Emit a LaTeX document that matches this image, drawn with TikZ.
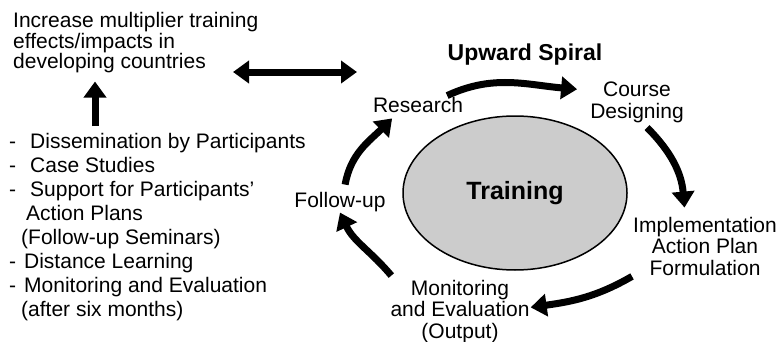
\documentclass[tikz,border=0pt]{standalone}
\usepackage{fontspec}
\setmainfont{Liberation Sans}
\usetikzlibrary{arrows.meta,shapes.geometric}

\tikzset{
  txt/.style={font=\fontsize{21}{21.5}\selectfont, inner sep=1pt},
  fat/.style={line width=7pt, -{Triangle[length=16pt,width=22pt]}},
  fatboth/.style={line width=7pt, {Triangle[length=16pt,width=22pt]}-{Triangle[length=16pt,width=22pt]}},
}

\begin{document}
\begin{tikzpicture}[x=1pt,y=1pt]
\useasboundingbox (0,0) rectangle (781,341);

% left side
\node[txt, align=left, anchor=base west, font=\fontsize{21}{20}\selectfont] (goal) at (12,273)
  {Increase multiplier training\\effects/impacts in\\developing countries};
\node[txt, align=left, anchor=base west, font=\fontsize{21}{24}\selectfont] (means) at (8,24.5)
  {-\hspace{14pt}Dissemination by Participants\\
   -\hspace{14pt}Case Studies\\
   -\hspace{14pt}Support for Participants'\\
   \hspace{17pt}Action Plans\\
   \hspace{12pt}(Follow-up Seminars)\\
   -\hspace{8pt}Distance Learning\\
   -\hspace{8pt}Monitoring and Evaluation\\
   \hspace{12pt}(after six months)};
\coordinate (link) at (233,269);
\coordinate (spiral) at (357,269);

% spiral
\node[font=\bfseries\fontsize{23}{23}\selectfont, anchor=base] (title) at (525,281) {Upward Spiral};
\node[ellipse, draw, line width=1.5pt, fill=black!20, minimum width=224pt, minimum height=154pt,
  font=\bfseries\fontsize{25}{25}\selectfont] (training) at (515,148) {Training};
\node[txt, anchor=base] (research) at (418,229) {Research};
\node[txt, align=center, anchor=base] (course) at (637,223) {Course\\Designing};
\node[txt, align=center, anchor=base] (impl) at (705,66) {Implementation\\Action Plan\\Formulation};
\node[txt, align=center, anchor=base] (monitor) at (460,3) {Monitoring\\and Evaluation\\(Output)};
\node[txt, anchor=base] (follow) at (340,134) {Follow-up};

% arrows
\draw[fat, shorten <=6pt, shorten >=8pt] (means.north -| 95,0) -- (goal.south -| 95,0);
\draw[fatboth] (link) -- (spiral);
\draw[fat] (research.17) to[out=25,in=175] ([xshift=-12pt]course.165);
\draw[fat] ([yshift=-4pt]course.-65) to[out=-45,in=95] ([yshift=8pt]impl.124);
\draw[fat] (impl.south west) to[out=-150,in=8] (monitor.3);
\draw[fat] ([shift={(2pt,3pt)}]monitor.north west) to[out=130,in=-65] (follow.south);
\draw[fat] ([yshift=6pt]follow.65) to[out=80,in=-135] ([yshift=-5pt]research.-161);
\end{tikzpicture}
\end{document}
